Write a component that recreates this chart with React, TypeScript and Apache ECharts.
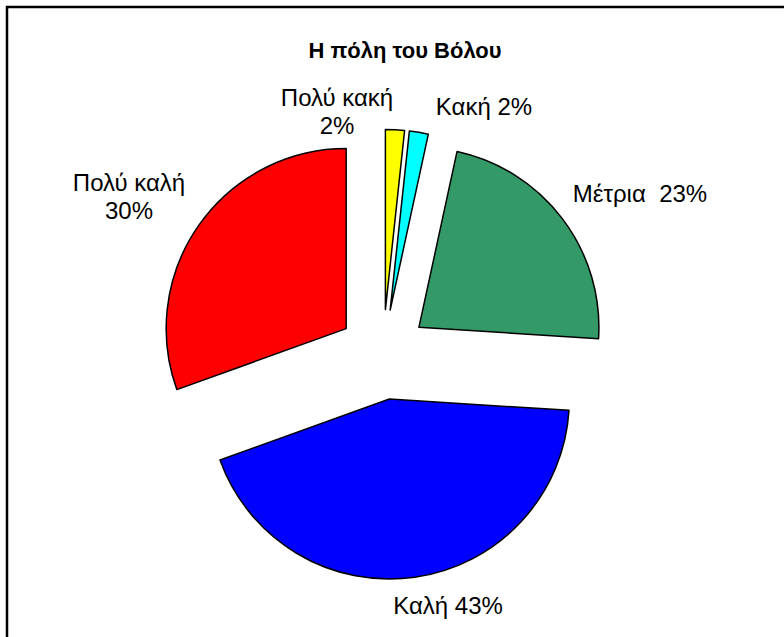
import React, { useEffect, useRef } from "react";
import * as echarts from "echarts";

// ---- data ----
const TITLE = "Η πόλη του Βόλου";
const categories = ["Πολύ κακή", "Κακή", "Μέτρια", "Καλή", "Πολύ καλή"];
const values = [1.7, 1.7, 22.6, 43.5, 30.5];
const colors = ["#FFFF00", "#00FFFF", "#339966", "#0000FF", "#FF0000"];
const labelSeparators = ["\n", " ", "  ", " ", "\n"];

// ---- layout (label centres in px) ----
const LABEL_CENTERS: [number, number][] = [
  [337, 111],
  [484, 106],
  [640, 193],
  [448, 605],
  [129, 196],
];

const FONT = "'Liberation Sans', Arial, Helvetica, sans-serif";

// integer percentages by largest remainder (same rule ECharts uses)
function roundedPercents(vals: number[]): number[] {
  const sum = vals.reduce((a, b) => a + b, 0);
  const quotas = vals.map((v) => (v / sum) * 100);
  const seats = quotas.map((q) => Math.floor(q));
  const rem = quotas.map((q, i) => q - seats[i]);
  let total = seats.reduce((a, b) => a + b, 0);
  while (total < 100) {
    let maxI = 0;
    for (let i = 1; i < rem.length; i++) if (rem[i] > rem[maxI]) maxI = i;
    seats[maxI] += 1;
    rem[maxI] = -1;
    total += 1;
  }
  return seats;
}

export default function App() {
  const ref = useRef<HTMLDivElement>(null);

  useEffect(() => {
    if (!ref.current) return;
    const chart = echarts.init(ref.current, undefined, { renderer: "svg" });
    const pct = roundedPercents(values);
    const labelTexts = categories.map((name, i) => ({
      type: "text",
      silent: true,
      style: {
        text: name + labelSeparators[i] + pct[i] + "%",
        x: LABEL_CENTERS[i][0],
        y: LABEL_CENTERS[i][1],
        textAlign: "center",
        textVerticalAlign: "middle",
        fontFamily: FONT,
        fontSize: 24,
        lineHeight: 28,
        fill: "#000",
      },
    }));
    chart.setOption({
      animation: false,
      backgroundColor: "#ffffff",
      title: {
        text: TITLE,
        left: 400,
        top: 45,
        textAlign: "center",
        textVerticalAlign: "middle",
        textStyle: {
          fontFamily: FONT,
          fontSize: 22,
          fontWeight: "bold",
          color: "#000",
        },
      },
      graphic: [
        {
          type: "rect",
          shape: { x: 7, y: 7, width: 820, height: 700 },
          style: { fill: "none", stroke: "#000", lineWidth: 2.5 },
          silent: true,
        },
        ...labelTexts,
      ],
      series: [
        {
          type: "pie",
          center: [383, 354.5],
          radius: 180,
          startAngle: 90,
          clockwise: true,
          selectedMode: "multiple",
          selectedOffset: 45,
          avoidLabelOverlap: false,
          percentPrecision: 0,
          itemStyle: { borderColor: "#000", borderWidth: 1.5 },
          emphasis: { disabled: true },
          select: { itemStyle: { borderColor: "#000", borderWidth: 1.5 } },
          label: { show: false },
          labelLine: { show: false },
          data: categories.map((name, i) => ({
            name,
            value: values[i],
            selected: true,
            itemStyle: { color: colors[i] },
            select: { itemStyle: { color: colors[i] } },
          })),
        },
      ],
    });
    return () => chart.dispose();
  }, []);

  return (
    <div
      ref={ref}
      style={{
        position: "absolute",
        left: 0,
        top: 0,
        width: 784,
        height: 637,
        background: "#fff",
      }}
    />
  );
}
